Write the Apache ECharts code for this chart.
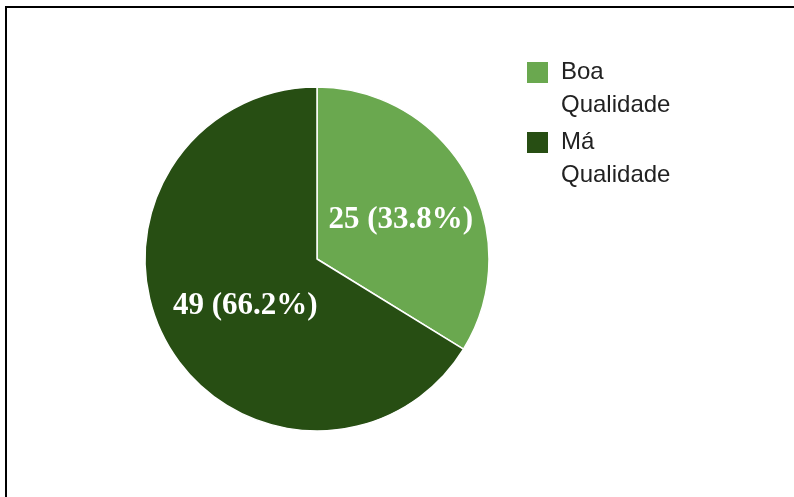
<!DOCTYPE html>
<html>
<head>
<meta charset="utf-8">
<script src="https://cdn.jsdelivr.net/npm/echarts@6/dist/echarts.min.js"></script>
<style>
html,body{margin:0;padding:0;background:#fff;}
#chart{width:794px;height:497px;}
</style>
</head>
<body>
<div id="chart"></div>
<script>
var categories = ['Boa Qualidade', 'Má Qualidade'];
var values = [25, 49];
var colors = ['#6aa84f', '#274e13'];

var chart = echarts.init(document.getElementById('chart'));
var data = categories.map(function (c, i) {
  return { name: c, value: values[i], itemStyle: { color: colors[i] } };
});

function legendFor(i, top) {
  return {
    data: [categories[i]],
    orient: 'vertical',
    left: 525,
    top: top,
    padding: 0,
    icon: 'rect',
    itemWidth: 23,
    itemHeight: 23,
    itemGap: 0,
    selectedMode: false,
    formatter: function (n) {
      return '\n' + n.split(' ').map(function (w) { return '{s|}' + w; }).join('\n');
    },
    textStyle: {
      fontFamily: 'Liberation Sans, Arial, sans-serif',
      fontSize: 24,
      lineHeight: 33,
      color: '#222',
      rich: { s: { width: 7 } }
    }
  };
}

chart.setOption({
  animation: false,
  backgroundColor: '#fff',
  graphic: [
    { type: 'line', shape: { x1: 6, y1: 7, x2: 794, y2: 7 }, style: { stroke: '#000', lineWidth: 2 } },
    { type: 'line', shape: { x1: 6, y1: 6, x2: 6, y2: 497 }, style: { stroke: '#000', lineWidth: 2 } }
  ],
  legend: [legendFor(0, 23), legendFor(1, 93)],
  series: [{
    type: 'pie',
    center: [317, 259],
    radius: 172,
    startAngle: 90,
    clockwise: true,
    percentPrecision: 1,
    data: data,
    itemStyle: { borderColor: '#fff', borderWidth: 1.5 },
    emphasis: { disabled: true },
    label: {
      position: 'inside',
      formatter: '{c} ({d}%)',
      color: '#fff',
      fontFamily: 'Liberation Serif, Times New Roman, serif',
      fontWeight: 'bold',
      fontSize: 31,
      offset: [6, 4]
    },
    labelLine: { show: false }
  }]
});
</script>
</body>
</html>
